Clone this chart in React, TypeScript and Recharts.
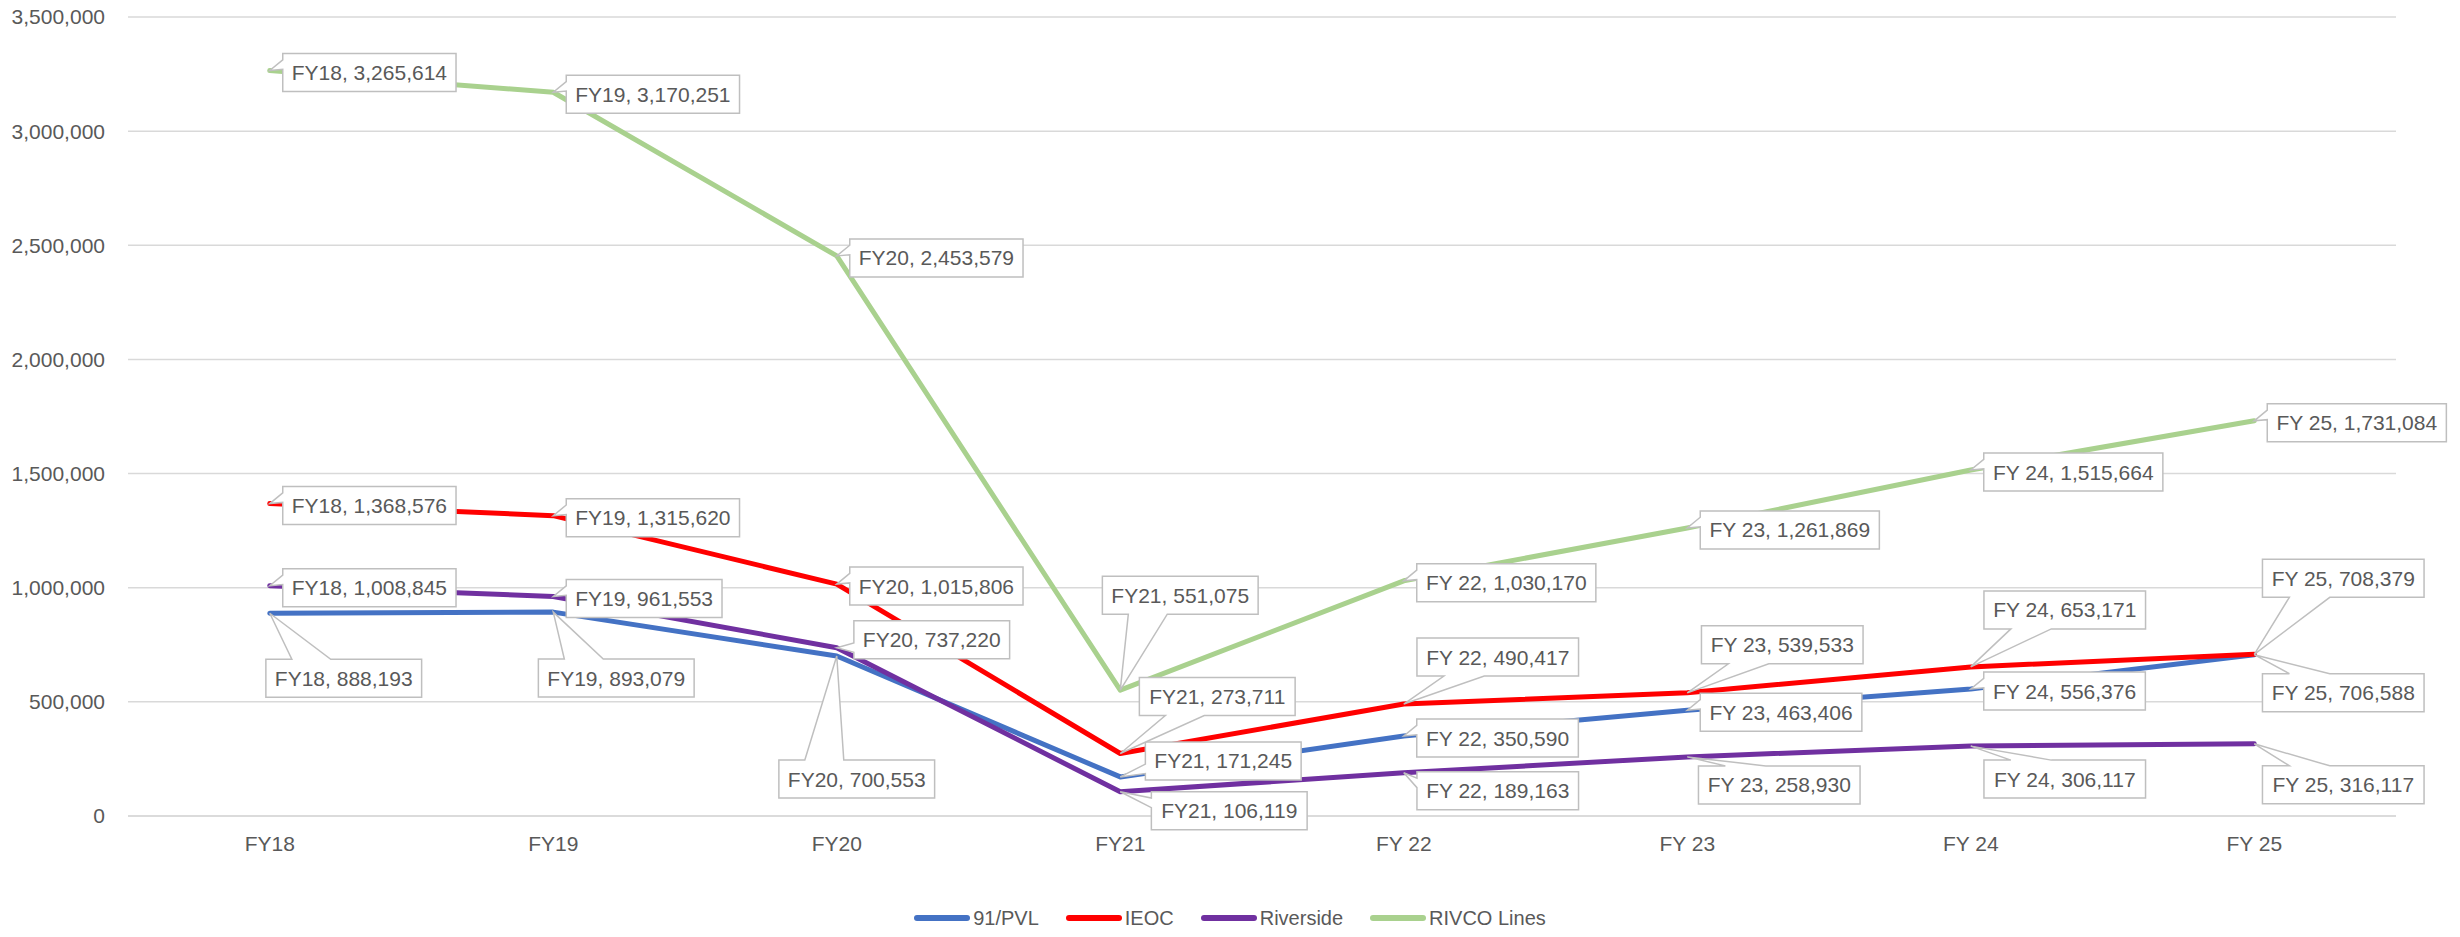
import React from 'react';
import { LineChart, Line, XAxis, YAxis, CartesianGrid, Legend } from 'recharts';

const categories = ['FY18', 'FY19', 'FY20', 'FY21', 'FY 22', 'FY 23', 'FY 24', 'FY 25'];
const pvlValues = [888193, 893079, 700553, 171245, 350590, 463406, 556376, 706588];
const ieocValues = [1368576, 1315620, 1015806, 273711, 490417, 539533, 653171, 708379];
const riversideValues = [1008845, 961553, 737220, 106119, 189163, 258930, 306117, 316117];
const rivcoValues = [3265614, 3170251, 2453579, 551075, 1030170, 1261869, 1515664, 1731084];
const yTicks = [0, 500000, 1000000, 1500000, 2000000, 2500000, 3000000, 3500000];
const seriesNames = ['91/PVL', 'IEOC', 'Riverside', 'RIVCO Lines'];

const FONT = '"Liberation Sans", Arial, sans-serif';
const TEXT = '#595959';
const W = 2460;
const H = 937;
const margin = { top: 17, right: 64, bottom: 4, left: 0 };
const Y_W = 128;
const PLOT_W = W - Y_W - margin.right - margin.left;
const PAD = PLOT_W / 16;

const series = [
  { key: 'pvl', name: seriesNames[0], values: pvlValues, color: '#4472C4' },
  { key: 'ieoc', name: seriesNames[1], values: ieocValues, color: '#FF0000' },
  { key: 'riverside', name: seriesNames[2], values: riversideValues, color: '#7030A0' },
  { key: 'rivco', name: seriesNames[3], values: rivcoValues, color: '#A9D18E' },
];

// callout box centre offsets from the data point (null = placed to the right)
const calloutLayout: Record<string, (number[] | null)[]> = {
  pvl: [[74, 65], [63, 66], [20, 123], [103, -16], null, null, null, [89, 38]],
  ieoc: [null, null, null, [97, -57], [94, -47], [95, -48], [94, -57], [89, -76]],
  riverside: [null, null, [95, -8], [109, 19], [94, 18], [92, 28], [94, 33], [89, 41]],
  rivco: [null, null, null, [60, -95], null, null, null, null],
};

const data = categories.map((c, i) => ({
  name: c,
  pvl: pvlValues[i],
  ieoc: ieocValues[i],
  riverside: riversideValues[i],
  rivco: rivcoValues[i],
}));

const fmt = (v: number) => v.toLocaleString('en-US');

const CW: Record<string, number> = { F: 0.611, Y: 0.667, ',': 0.278, ' ': 0.278 };
const textWidth = (s: string, size: number) =>
  s.split('').reduce((a, ch) => a + (CW[ch] ?? 0.556), 0) * size;

const LFS = 21;

function Callout({ px, py, text, off }: { px: number; py: number; text: string; off: number[] | null }) {
  const w = textWidth(text, LFS) + 18;
  const h = 38;
  const cx = off ? px + off[0] : px + 13 + w / 2;
  const cy = off ? py + off[1] : py + 2;
  const l = cx - w / 2;
  const t = cy - h / 2;
  const r = l + w;
  const b = t + h;
  const dxPos = px - cx;
  const dyPos = py - cy;
  const dq = (dxPos * h) / w;
  const dz = Math.abs(dyPos) - Math.abs(dq);
  const x1 = l + (w * (dxPos > 0 ? 7 : 2)) / 12;
  const x2 = l + (w * (dxPos > 0 ? 10 : 5)) / 12;
  const y1 = t + (h * (dyPos > 0 ? 7 : 2)) / 12;
  const y2 = t + (h * (dyPos > 0 ? 10 : 5)) / 12;
  const xl = dz > 0 ? l : dxPos > 0 ? l : px;
  const yl = dz > 0 ? y1 : dxPos > 0 ? y1 : py;
  const xt = dz > 0 ? (dyPos > 0 ? x1 : px) : x1;
  const yt = dz > 0 ? (dyPos > 0 ? t : py) : t;
  const xr = dz > 0 ? r : dxPos > 0 ? px : r;
  const yr = dz > 0 ? y1 : dxPos > 0 ? py : y1;
  const xb = dz > 0 ? (dyPos > 0 ? px : x1) : x1;
  const yb = dz > 0 ? (dyPos > 0 ? py : b) : b;
  const d = `M${l},${t} L${x1},${t} L${xt},${yt} L${x2},${t} L${r},${t} L${r},${y1} L${xr},${yr} L${r},${y2} L${r},${b} L${x2},${b} L${xb},${yb} L${x1},${b} L${l},${b} L${l},${y2} L${xl},${yl} L${l},${y1} Z`;
  return (
    <g>
      <path d={d} fill="#ffffff" stroke="#bfbfbf" strokeWidth={1.5} strokeLinejoin="miter" />
      <text
        x={cx}
        y={cy}
        dy="0.36em"
        textAnchor="middle"
        fontFamily={FONT}
        fontSize={LFS}
        fill={TEXT}
      >
        {text}
      </text>
    </g>
  );
}

const renderLegend = () => (
  <div
    style={{
      display: 'flex',
      justifyContent: 'center',
      alignItems: 'center',
      height: 30,
      fontFamily: FONT,
      fontSize: 20,
      color: TEXT,
    }}
  >
    {series.map((s, i) => (
      <div key={s.key} style={{ display: 'flex', alignItems: 'center', marginRight: i < series.length - 1 ? 27 : 0 }}>
        <svg width={56} height={10}>
          <line x1={3} y1={5} x2={53} y2={5} stroke={s.color} strokeWidth={6} strokeLinecap="round" />
        </svg>
        <span style={{ marginLeft: 3 }}>{s.name}</span>
      </div>
    ))}
  </div>
);

export default function App() {
  return (
    <div style={{ position: 'absolute', left: 0, top: 0, width: W, height: H, background: '#fff' }}>
      <LineChart width={W} height={H} data={data} margin={margin}>
        <CartesianGrid vertical={false} stroke="#d9d9d9" strokeWidth={1.5} />
        <XAxis
          dataKey="name"
          padding={{ left: PAD, right: PAD }}
          axisLine={{ stroke: '#d9d9d9', strokeWidth: 1.5 }}
          tickLine={false}
          tickSize={0}
          tickMargin={20}
          height={87}
          interval={0}
          tick={{ fill: TEXT, fontSize: 21, fontFamily: FONT }}
        />
        <YAxis
          domain={[0, 3500000]}
          ticks={yTicks}
          width={Y_W}
          axisLine={false}
          tickLine={false}
          tickSize={0}
          tickMargin={23}
          tickFormatter={(v: number) => fmt(v)}
          tick={{ fill: TEXT, fontSize: 21, fontFamily: FONT }}
        />
        <Legend
          verticalAlign="bottom"
          align="center"
          content={renderLegend}
          wrapperStyle={{ left: 0, width: W }}
        />
        {series.map((s) => (
          <Line
            key={s.key}
            type="linear"
            dataKey={s.key}
            name={s.name}
            stroke={s.color}
            strokeWidth={5}
            strokeLinejoin="round"
            strokeLinecap="round"
            dot={false}
            activeDot={false}
            isAnimationActive={false}
          />
        ))}
        {series.map((s) => (
          <Line
            key={`${s.key}-labels`}
            type="linear"
            dataKey={s.key}
            stroke="none"
            legendType="none"
            activeDot={false}
            isAnimationActive={false}
            dot={(p: any) => (
              <Callout
                key={`${s.key}-c-${p.index}`}
                px={p.cx}
                py={p.cy}
                text={`${categories[p.index]}, ${fmt(s.values[p.index])}`}
                off={calloutLayout[s.key][p.index]}
              />
            )}
          />
        ))}
      </LineChart>
    </div>
  );
}
